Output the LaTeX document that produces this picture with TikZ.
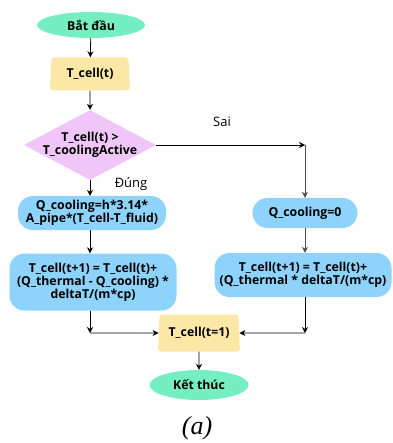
\documentclass[tikz,border=0pt]{standalone}
\usepackage{fontspec}
\setmainfont{Liberation Serif}
\newfontfamily\flowfont{Open Sans}
\usetikzlibrary{shapes.geometric,arrows.meta}

\definecolor{mint}{RGB}{118,238,196}
\definecolor{sand}{RGB}{252,232,166}
\definecolor{lilac}{RGB}{240,198,248}
\definecolor{sky}{RGB}{142,211,252}

\tikzset{
  base/.style={font=\flowfont\bfseries\fontsize{12.3}{13}\selectfont, align=center, inner sep=2pt},
  term/.style={base, ellipse, fill=mint, minimum width=108pt, minimum height=26pt, inner sep=0pt},
  io/.style={base, trapezium, trapezium left angle=84, trapezium right angle=84,
    trapezium stretches body, fill=sand, rounded corners=3pt, minimum height=33pt},
  cond/.style={base, diamond, aspect=1.9, fill=lilac, minimum width=132pt,
    minimum height=70pt, inner sep=-6pt},
  proc/.style={base, rectangle, rounded corners=15pt, fill=sky},
  branch/.style={font=\flowfont\fontsize{13}{15}\selectfont},
  flow/.style={-{Stealth[length=6pt,width=6pt]}, line width=0.8pt},
}

\begin{document}
\begin{tikzpicture}[x=1pt,y=-1pt]
  \useasboundingbox (0,0) rectangle (392,443);

  \node[term] (start) at (91,25) {Bắt đầu};
  \node[io, minimum width=80pt] (read) at (90,74) {T\_cell(t)};
  \node[cond] (check) at (90,145) {T\_cell(t) >\\T\_coolingActive};

  \node[proc, minimum width=148pt, minimum height=34pt] (qon) at (92,213)
    {Q\_cooling=h*3.14*\\A\_pipe*(T\_cell-T\_fluid)};
  \node[proc, minimum width=167pt, minimum height=57pt] (tnewon) at (93,282)
    {T\_cell(t+1) = T\_cell(t)+\\(Q\_thermal - Q\_cooling) *\\deltaT/(m*cp)};

  \node[proc, minimum width=105pt, minimum height=30pt] (qoff) at (305,213) {Q\_cooling=0};
  \node[proc, minimum width=177pt, minimum height=44pt] (tnewoff) at (303,275)
    {T\_cell(t+1) = T\_cell(t)+\\(Q\_thermal * deltaT/(m*cp)};

  \node[io, minimum width=82pt, minimum height=37pt] (update) at (199,333) {T\_cell(t=1)};
  \node[term, minimum width=99pt, minimum height=30pt] (stop) at (199,385) {Kết thúc};
  \node[font=\itshape\fontsize{26}{29}\selectfont] (cap) at (197,428) {(a)};

  \node[branch] (yes) at (131,184) {Đúng};
  \node[branch] (no) at (222,122) {Sai};

  % connectors
  \draw[flow] (start) -- (read);
  \draw[flow] (read) -- (check);
  \draw[flow] (check.south) -- (check.south |- qon.north);
  \draw[flow] (qon.south -| check.south) -- (check.south |- tnewon.north);

  \coordinate (turn) at (305,145);
  \draw[flow] (check.east) -- (turn);
  \draw[flow,black!70] (turn) -- (qoff.north);
  \draw[flow,black!70] (qoff.south) -- (qoff.south |- tnewoff.north);

  \coordinate (joinL) at (check.south |- update);
  \coordinate (joinR) at (turn |- update);
  \draw[flow] (check.south |- tnewon.south) -- (joinL);
  \draw[flow] (joinL) -- (update.west);
  \draw[flow] (turn |- tnewoff.south) -- (joinR);
  \draw[flow] (joinR) -- (update.east);
  \draw[flow] (update) -- (stop);
\end{tikzpicture}
\end{document}
